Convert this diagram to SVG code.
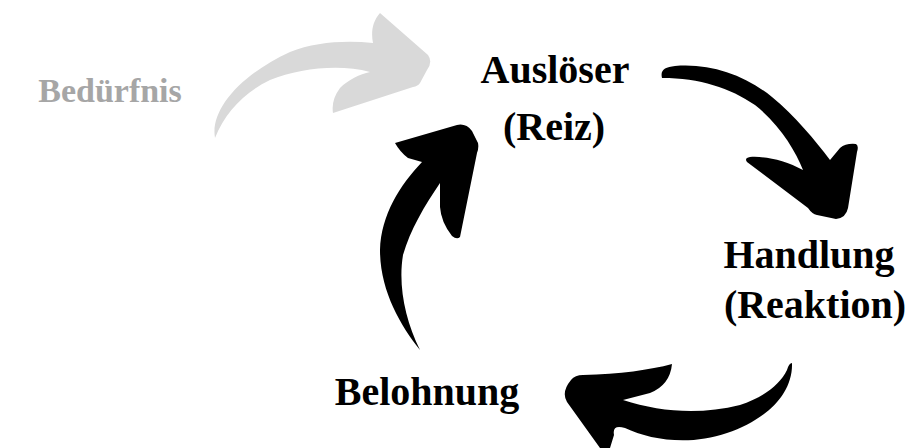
<svg xmlns="http://www.w3.org/2000/svg" width="912" height="448" viewBox="0 0 912 448">
  <style>
    .label { font-family: "Liberation Serif", "Times New Roman", serif; font-weight: bold; font-size: 40px; text-anchor: middle; fill: #000; }
    .muted { fill: #a6a6a6; font-size: 34px; }
    .arrow { fill: #000; stroke: none; }
    .arrow-muted { fill: #d9d9d9; stroke: none; }
  </style>
  <rect width="912" height="448" fill="#fff"/>

  <!-- curved block arrows of the habit loop -->
  <g id="connectors">
    <!-- need -> trigger -->
    <path class="arrow-muted" d="M215,138 C210,110 240,75 290,52 C315,42 345,40 373,43 C371,33 372,22 380,13 L428,55 Q433,62 427,70 L420,83 Q418,86 413,87 L333,113 Q331,100 340,88 C348,80 360,74 370,72 C340,64 300,68 270,80 C245,92 225,112 215,138 Z"/>
    <!-- trigger -> action -->
    <path class="arrow" d="M662,78 C660,70 665,67 675,66 C710,63 745,75 772,97 C795,116 815,140 830,160 L840,148 Q846,143 856,144 Q859,146 857,152 L848,208 Q846,218 836,219 L817,215 Q812,214 808,208 L747,162 Q744,158 750,157 C765,156 785,160 803,170 C795,150 780,125 755,105 C730,88 700,78 662,78 Z"/>
    <!-- action -> reward -->
    <path class="arrow" d="M792,363 C793,395 765,420 727,433 C690,446 650,440 625,428 Q612,424 614,435 L610,448 L600,448 L567,402 Q561,392 571,380 Q575,375 583,375 C620,374 650,370 672,364 Q670,385 650,393 L623,400 C660,412 700,415 740,405 C762,398 780,385 787,370 Q789,363 792,363 Z"/>
    <!-- reward -> trigger -->
    <path class="arrow" d="M420,350 C400,325 380,290 380,250 C381,215 400,185 422,162 L408,158 Q400,152 395,143 L457,125 Q466,123 472,131 L478,143 Q479,148 477,153 L460,237 Q457,240 452,236 Q441,222 440,207 L440,183 C425,205 410,230 403,255 C398,285 405,320 420,350 Z"/>
  </g>

  <g id="need">
    <text class="label muted" x="110" y="102">Bedürfnis</text>
  </g>
  <g id="trigger">
    <text class="label" x="555" y="83">Auslöser</text>
    <text class="label" x="554" y="140">(Reiz)</text>
  </g>
  <g id="action">
    <text class="label" x="809" y="268">Handlung</text>
    <text class="label" x="815" y="318">(Reaktion)</text>
  </g>
  <g id="reward">
    <text class="label" x="427" y="405">Belohnung</text>
  </g>
</svg>
